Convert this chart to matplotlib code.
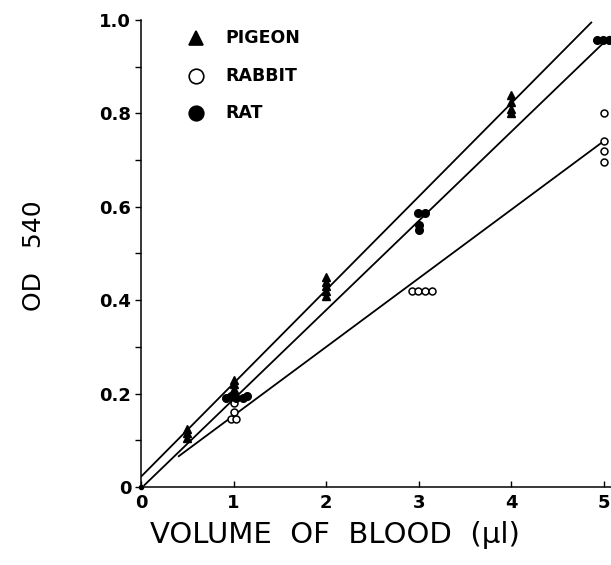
import matplotlib
matplotlib.use("Agg")
import matplotlib.pyplot as plt
import numpy as np

plt.rcParams['font.family'] = ['DejaVu Sans']

# pigeon (filled triangles)
pigeon_x = [0.5, 0.5, 0.5, 1, 1, 1, 1, 2, 2, 2, 2, 2, 4, 4, 4, 4]
pigeon_y = [0.105, 0.115, 0.125, 0.23, 0.22, 0.21, 0.20, 0.41, 0.42, 0.43, 0.44, 0.45, 0.84, 0.825, 0.81, 0.80]

# rabbit (open circles)
rabbit_x = [1, 1, 0.97, 1.03, 2.93, 2.99, 3.07, 3.14, 5, 5, 5, 5]
rabbit_y = [0.18, 0.16, 0.145, 0.145, 0.42, 0.42, 0.42, 0.42, 0.80, 0.74, 0.72, 0.695]

# rat (filled circles)
rat_x = [0.92, 0.97, 1.03, 1.1, 1.15, 2.99, 3.07, 3.0, 3.0, 4.92, 4.99, 5.05]
rat_y = [0.19, 0.195, 0.19, 0.19, 0.195, 0.587, 0.587, 0.56, 0.55, 0.957, 0.957, 0.957]

# fitted lines: (x start, x end, intercept, slope)
pigeon_fit = (0.0, 4.87, 0.022, 0.200)
rat_fit = (0.03, 5.07, -0.003, 0.191)
rabbit_fit = (0.40, 5.01, 0.006, 0.147)

fig = plt.figure(figsize=(6.11, 5.65), dpi=100)
ax = fig.add_axes([141/611, 1 - 487/565, 470/611, 467/565])

for x0, x1, b, m in [pigeon_fit, rat_fit, rabbit_fit]:
    xs = np.array([x0, x1])
    ax.plot(xs, b + m*xs, color='black', lw=1.3, solid_capstyle='butt')

ax.plot(pigeon_x, pigeon_y, '^', color='black', ms=6, ls='none', clip_on=False)
ax.plot(rabbit_x, rabbit_y, 'o', mfc='white', mec='black', mew=1.1, ms=5, ls='none', clip_on=False)
ax.plot(rat_x, rat_y, 'o', color='black', ms=5.5, ls='none', clip_on=False)
ax.plot([0], [0], 'o', color='black', ms=3, clip_on=False)

ax.set_xlim(0, 5.076)
ax.set_ylim(0, 1.0)
ax.spines['top'].set_visible(False)
ax.spines['right'].set_visible(False)
ax.spines['left'].set_linewidth(1.1)
ax.spines['bottom'].set_linewidth(1.1)

ax.set_xticks([0, 1, 2, 3, 4, 5], labels=['0', '1', '2', '3', '4', '5'])
ax.set_yticks([0, 0.2, 0.4, 0.6, 0.8, 1.0], labels=['0', '0.2', '0.4', '0.6', '0.8', '1.0'])
ax.set_yticks(np.arange(0.1, 1.0, 0.2), minor=True)
ax.tick_params(axis='x', direction='in', length=4, width=1, labelsize=13, pad=5)
ax.tick_params(axis='y', direction='out', length=4, width=1, labelsize=13, pad=3)
ax.tick_params(axis='y', which='minor', direction='out', length=4, width=1)
for lbl in ax.get_xticklabels() + ax.get_yticklabels():
    lbl.set_fontweight('bold')

ax.set_xlabel('VOLUME  OF  BLOOD  (µl)', fontsize=21)
ax.xaxis.set_label_coords((335 - 141)/470, -(535 - 487)/467)
ax.xaxis.label.set_va('center')
ax.set_ylabel('OD   540', fontsize=18)
ax.yaxis.set_label_coords(-(141 - 34)/470, (487 - 256)/467)
ax.yaxis.label.set_va('center')

# legend drawn by hand
leg = [('^', 'black', 'black', 'PIGEON'), ('o', 'white', 'black', 'RABBIT'), ('o', 'black', 'black', 'RAT')]
for i, (mk, fc, ec, name) in enumerate(leg):
    yy = 0.962 - i*0.081
    ax.plot([0.59], [yy], mk, mfc=fc, mec=ec, mew=1.2, ms=10.5)
    ax.text(0.91, yy, name, fontsize=12.5, fontweight='bold', va='center', ha='left')

fig.savefig('out.png', dpi=100)
